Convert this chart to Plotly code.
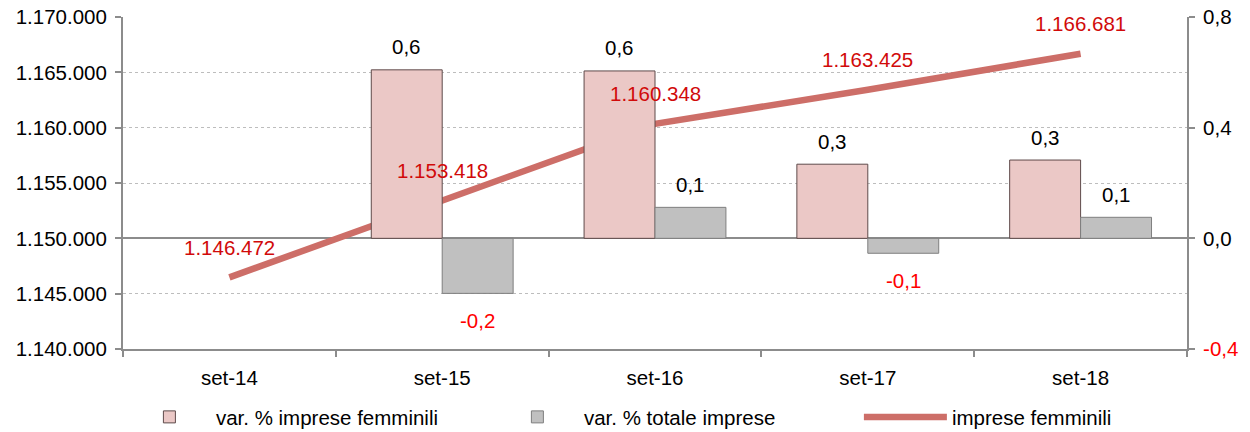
import plotly.graph_objects as go

categories = ["set-14", "set-15", "set-16", "set-17", "set-18"]
var_femminili = [None, 0.609, 0.605, 0.268, 0.283]
var_totale = [None, -0.199, 0.112, -0.054, 0.076]
imprese_femminili = [1146472, 1153418, 1160348, 1163425, 1166681]

left_ticks = [1140000, 1145000, 1150000, 1155000, 1160000, 1165000, 1170000]
right_ticks = [-0.4, 0.0, 0.4, 0.8]

FONT = "Liberation Sans, Arial, sans-serif"
FS = 20.5
RED_LINE = "#D10A0A"
RED_NEG = "#FF0000"
AXIS_GRAY = "#8C8C8C"

W, H = 1250, 432
ML, MR, MT, MB = 123, 63, 17, 83
plot_w = W - ML - MR
BARGAP = 1 / 3
cat_w = plot_w / len(categories)
bar_w = cat_w * (1 - BARGAP) / 2


def fmt_dec(v):
    return f"{v:.1f}".replace(".", ",")


def fmt_int(v):
    return f"{v:,}".replace(",", ".")


fig = go.Figure()
fig.add_trace(go.Bar(
    x=categories, y=var_femminili, name="var. % imprese femminili",
    marker=dict(color="#EBC8C6", line=dict(color="#5E4A4A", width=1)),
    yaxis="y2", xaxis="x",
))
fig.add_trace(go.Bar(
    x=categories, y=var_totale, name="var. % totale imprese",
    marker=dict(color="#C0C0C0", line=dict(color="#7F7F7F", width=1)),
    yaxis="y2", xaxis="x",
))
fig.add_trace(go.Scatter(
    x=categories, y=imprese_femminili, name="imprese femminili",
    mode="lines", line=dict(color="#CD6E68", width=6.5),
    yaxis="y", xaxis="x",
))

annotations = []
for series, shift in ((var_femminili, -bar_w / 2), (var_totale, bar_w / 2)):
    for c, v in zip(categories, series):
        if v is None:
            continue
        neg = v < 0
        annotations.append(dict(
            x=c, y=v, xref="x", yref="y2", text=fmt_dec(v), showarrow=False,
            xshift=shift, yshift=-27 if neg else 23, yanchor="middle",
            font=dict(family=FONT, size=FS, color=RED_NEG if neg else "#000000"),
        ))
for c, v in zip(categories, imprese_femminili):
    annotations.append(dict(
        x=c, y=v, xref="x", yref="y", text=fmt_int(v), showarrow=False,
        yshift=30, yanchor="middle",
        font=dict(family=FONT, size=FS, color=RED_LINE),
    ))

right_text = [
    f"<span style='color:{RED_NEG}'>{fmt_dec(t)}</span>" if t < 0 else fmt_dec(t)
    for t in right_ticks
]

fig.update_layout(
    width=W, height=H,
    margin=dict(l=ML, r=MR, t=MT, b=MB, autoexpand=False),
    paper_bgcolor="white", plot_bgcolor="white",
    separators=",.",
    barmode="group", bargap=BARGAP, bargroupgap=0,
    font=dict(family=FONT, size=FS, color="#000000"),
    xaxis=dict(
        type="category", categoryorder="array", categoryarray=categories,
        range=[-0.5, len(categories) - 0.5], automargin=False,
        showline=True, linecolor=AXIS_GRAY, linewidth=2,
        ticks="outside", tickson="boundaries", ticklen=6, tickcolor=AXIS_GRAY,
        tickwidth=2, showgrid=False, ticklabelstandoff=9,
        tickfont=dict(family=FONT, size=FS, color="#000000"),
    ),
    xaxis2=dict(
        overlaying="x", anchor="free", position=1 / 3, automargin=False,
        range=[-0.5, len(categories) - 0.5], tick0=-0.5, dtick=1,
        showline=False, ticks="outside", ticklen=6, tickcolor=AXIS_GRAY,
        tickwidth=2, showticklabels=False, showgrid=False, zeroline=False,
    ),
    yaxis=dict(
        range=[left_ticks[0], left_ticks[-1]], tickvals=left_ticks,
        ticktext=[fmt_int(t) for t in left_ticks], automargin=False,
        showline=True, linecolor=AXIS_GRAY, linewidth=2,
        ticks="outside", ticklen=6, tickcolor=AXIS_GRAY, tickwidth=2,
        showgrid=True, gridcolor="#BDBDBD", griddash="dot", gridwidth=1,
        zeroline=False, ticklabelstandoff=4,
        tickfont=dict(family=FONT, size=FS, color="#000000"),
    ),
    yaxis2=dict(
        overlaying="y", side="right", anchor="x", automargin=False,
        range=[right_ticks[0], right_ticks[-1]], tickvals=right_ticks,
        ticktext=right_text,
        showline=True, linecolor=AXIS_GRAY, linewidth=2,
        ticks="outside", ticklen=6, tickcolor=AXIS_GRAY, tickwidth=2,
        showgrid=False, zeroline=True, zerolinecolor=AXIS_GRAY, zerolinewidth=2,
        ticklabelstandoff=4,
        tickfont=dict(family=FONT, size=FS, color="#000000"),
    ),
    legend=dict(
        orientation="h", x=-0.0001, xanchor="left", y=-0.205, yanchor="middle",
        entrywidth=270, entrywidthmode="pixels", itemwidth=83,
        font=dict(family=FONT, size=FS, color="#000000"),
        bgcolor="rgba(0,0,0,0)",
    ),
    annotations=annotations,
    showlegend=True,
)

fig.write_html(
    "out.html",
    config={"displayModeBar": False},
    post_script="document.body.style.margin='0';",
)
